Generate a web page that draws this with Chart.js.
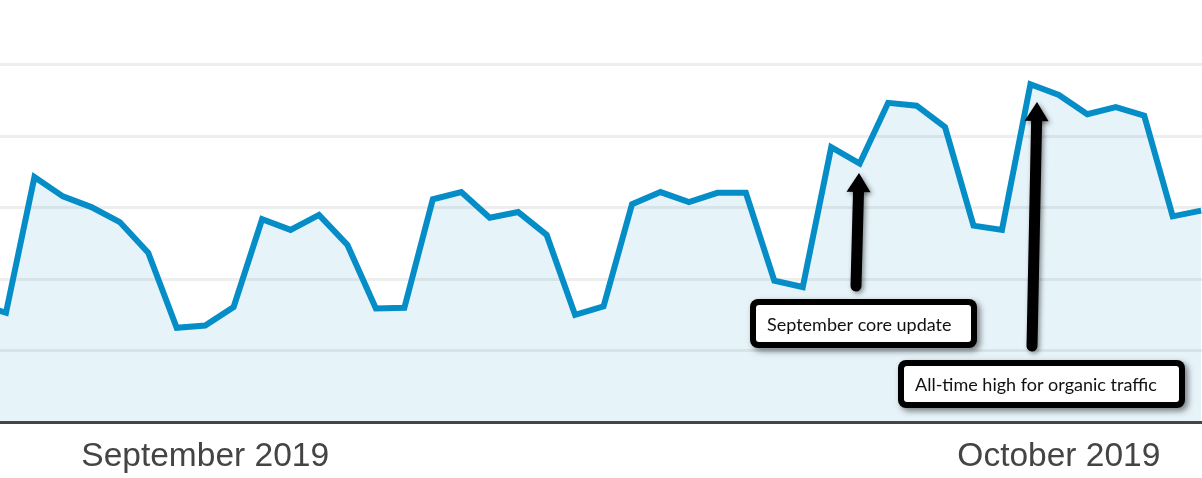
<!DOCTYPE html>
<html>
<head>
<meta charset="utf-8">
<script src="https://cdn.jsdelivr.net/npm/chart.js@4"></script>
<style>
  html, body { margin: 0; padding: 0; background: #fff; }
  canvas { display: block; }
</style>
</head>
<body>
<canvas id="c" width="1202" height="478"></canvas>
<script>
// Daily organic sessions (relative units), 2019-08-24 .. 2019-10-06
const dates = [
  '2019-08-24','2019-08-25','2019-08-26','2019-08-27','2019-08-28','2019-08-29','2019-08-30','2019-08-31',
  '2019-09-01','2019-09-02','2019-09-03','2019-09-04','2019-09-05','2019-09-06','2019-09-07','2019-09-08',
  '2019-09-09','2019-09-10','2019-09-11','2019-09-12','2019-09-13','2019-09-14','2019-09-15','2019-09-16',
  '2019-09-17','2019-09-18','2019-09-19','2019-09-20','2019-09-21','2019-09-22','2019-09-23','2019-09-24',
  '2019-09-25','2019-09-26','2019-09-27','2019-09-28','2019-09-29','2019-09-30','2019-10-01','2019-10-02',
  '2019-10-03','2019-10-04','2019-10-05','2019-10-06'
];
const sessions = [
  165, 153, 343, 316, 301, 280, 237, 132,
  135, 161, 284, 269, 290, 248, 159, 160,
  312, 322, 286, 294, 262, 150, 162, 305,
  322, 308, 321, 321, 198, 189, 385, 362,
  447, 443, 413, 275, 269, 473, 458, 431,
  441, 429, 288, 296
];
const monthTickDates = ['2019-09-01', '2019-10-01'];
const monthTickLabels = ['September 2019', 'October 2019'];
const gridValues = [100, 200, 300, 400, 500];
const annotations = [
  { text: 'September core update', box: [750, 299, 977, 348], arrow: [856, 286, 859, 173] },
  { text: 'All-time high for organic traffic', box: [898, 360, 1185, 408], arrow: [1032, 346, 1037, 102] }
];

const firstIdx = dates.indexOf('2019-08-25');
const points = sessions.map((v, i) => ({ x: i - firstIdx, y: v }));
const monthTickValues = monthTickDates.map(d => dates.indexOf(d) - firstIdx);

const annotationPlugin = {
  id: 'notes',
  afterDraw(chart) {
    const ctx = chart.ctx;
    annotations.forEach(a => {
      // arrow
      const [x0, y0, x1, y1] = a.arrow;
      const ang = Math.atan2(y1 - y0, x1 - x0);
      const headLen = 19, headHalf = 12;
      const bx = x1 - headLen * Math.cos(ang), by = y1 - headLen * Math.sin(ang);
      ctx.save();
      ctx.shadowColor = 'rgba(0,0,0,0.45)';
      ctx.shadowBlur = 5;
      ctx.shadowOffsetX = 2;
      ctx.shadowOffsetY = 2;
      ctx.strokeStyle = '#000';
      ctx.lineWidth = 11;
      ctx.lineCap = 'round';
      ctx.beginPath();
      ctx.moveTo(x0, y0);
      ctx.lineTo(bx + 2 * Math.cos(ang), by + 2 * Math.sin(ang));
      ctx.stroke();
      ctx.fillStyle = '#000';
      ctx.beginPath();
      ctx.moveTo(x1, y1);
      ctx.lineTo(bx + headHalf * Math.sin(ang), by - headHalf * Math.cos(ang));
      ctx.lineTo(bx - headHalf * Math.sin(ang), by + headHalf * Math.cos(ang));
      ctx.closePath();
      ctx.fill();
      ctx.restore();

      // box
      const [l, t, r, b] = a.box;
      ctx.save();
      ctx.shadowColor = 'rgba(0,0,0,0.5)';
      ctx.shadowBlur = 6;
      ctx.shadowOffsetX = 3;
      ctx.shadowOffsetY = 3;
      ctx.fillStyle = '#000';
      ctx.beginPath();
      ctx.roundRect(l, t, r - l, b - t, 8);
      ctx.fill();
      ctx.restore();
      ctx.save();
      ctx.fillStyle = '#fff';
      ctx.beginPath();
      ctx.roundRect(l + 6, t + 6, r - l - 12, b - t - 12, 3);
      ctx.fill();
      ctx.fillStyle = '#111';
      ctx.font = '18px Lato, "Open Sans", sans-serif';
      ctx.textBaseline = 'alphabetic';
      ctx.textAlign = 'left';
      ctx.fillText(a.text, l + 17, b - 17);
      ctx.restore();
    });
  }
};

new Chart(document.getElementById('c'), {
  type: 'line',
  data: {
    datasets: [{
      data: points,
      borderColor: '#058dc7',
      backgroundColor: 'rgba(5,141,199,0.1)',
      borderWidth: 6,
      borderJoinStyle: 'miter',
      pointRadius: 0,
      tension: 0,
      fill: 'origin'
    }]
  },
  options: {
    responsive: false,
    animation: false,
    layout: { padding: 0 },
    plugins: { legend: { display: false }, tooltip: { enabled: false } },
    scales: {
      x: {
        type: 'linear',
        min: -0.21,
        max: 42.03,
        grid: { display: false, drawTicks: false },
        border: { display: true, color: '#444', width: 3 },
        afterBuildTicks(scale) {
          scale.ticks = monthTickValues.map(v => ({ value: v }));
        },
        afterFit(scale) { scale.height = 56; },
        ticks: {
          autoSkip: false,
          maxRotation: 0,
          padding: 15,
          color: '#444',
          font: { family: '"Liberation Sans", Arial, sans-serif', size: 33.5 },
          callback(value) {
            const i = monthTickValues.indexOf(value);
            return i >= 0 ? monthTickLabels[i] : '';
          }
        }
      },
      y: {
        min: 0,
        max: 591,
        afterBuildTicks(scale) {
          scale.ticks = gridValues.map(v => ({ value: v }));
        },
        afterFit(scale) { scale.width = 0; },
        grid: { color: '#eeeeee', lineWidth: 3, drawTicks: false },
        border: { display: false },
        ticks: { display: false }
      }
    }
  },
  plugins: [annotationPlugin]
});
</script>
</body>
</html>
